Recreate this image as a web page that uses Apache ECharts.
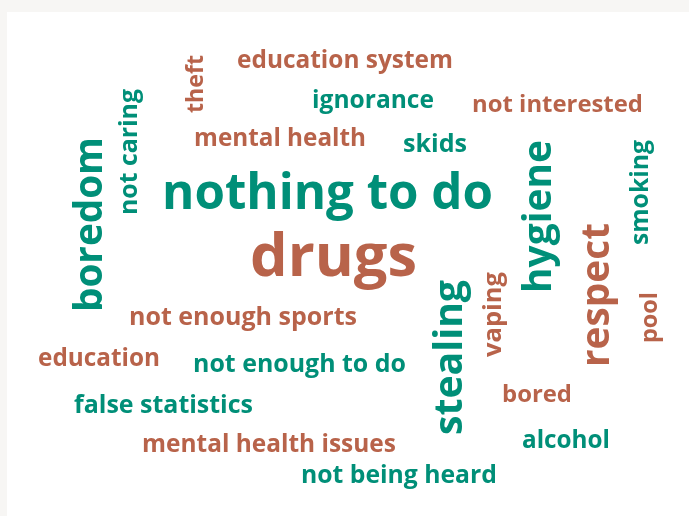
<!DOCTYPE html>
<html>
<head>
<meta charset="utf-8">
<script src="https://cdn.jsdelivr.net/npm/echarts@6/dist/echarts.min.js"></script>
<style>
  html, body { margin: 0; padding: 0; background: #f7f6f4; }
  .card { position: absolute; left: 7px; top: 12px; right: 0; bottom: 0; background: #fff; }
  #chart { position: absolute; left: 0; top: 0; width: 689px; height: 516px; }
</style>
</head>
<body>
<div class="card"></div>
<div id="chart"></div>
<script>
  // words of the cloud, and which colour group each belongs to (0 teal, 1 terracotta)
  const words = [
    'education system', 'ignorance', 'not interested', 'mental health', 'skids',
    'nothing to do', 'drugs', 'not enough sports', 'education', 'not enough to do',
    'bored', 'false statistics', 'mental health issues', 'alcohol', 'not being heard',
    'theft', 'not caring', 'boredom', 'hygiene', 'smoking',
    'respect', 'stealing', 'vaping', 'pool'
  ];
  const groups = [
    1, 0, 1, 1, 0,
    0, 1, 1, 1, 0,
    1, 0, 1, 0, 0,
    1, 0, 0, 0, 0,
    1, 0, 1, 1
  ];

  // layout (pixels): start/end along the reading direction, and the baseline
  const vertical = [
    false, false, false, false, false,
    false, false, false, false, false,
    false, false, false, false, false,
    true, true, true, true, true,
    true, true, true, true
  ];
  const spanStart = [
    237, 312, 472, 194, 403,
    162, 250, 129, 38, 193,
    502, 74, 142, 522, 301,
    55, 89, 137, 140, 140,
    223, 280, 272, 292
  ];
  const spanEnd = [
    453, 434, 643, 366, 467,
    493, 417, 357, 160, 406,
    572, 253, 396, 610, 497,
    113, 215, 312, 293, 245,
    367, 435, 357, 343
  ];
  const baseline = [
    69, 109, 113, 146.5, 153,
    210.5, 278, 326, 366.5, 373,
    403, 414, 453, 449, 484,
    204, 137.5, 103, 552, 649,
    610, 463, 502, 658
  ];

  const palette = ['#008f78', '#b8634a'];
  const FONT = 'Open Sans';
  const WEIGHT = 750;
  const MID = 0.31; // label centre sits this far above the baseline (em)

  const ctx = document.createElement('canvas').getContext('2d');
  ctx.font = WEIGHT + ' 100px "' + FONT + '"';

  const points = words.map((w, i) => {
    const len = spanEnd[i] - spanStart[i];
    const fs = len / ctx.measureText(w).width * 100;
    const mid = (spanStart[i] + spanEnd[i]) / 2;
    const off = baseline[i] - MID * fs;
    return {
      name: w,
      value: vertical[i] ? [off, mid] : [mid, off],
      label: {
        fontSize: fs,
        rotate: vertical[i] ? 90 : 0,
        color: palette[groups[i]]
      }
    };
  });

  const chart = echarts.init(document.getElementById('chart'));
  chart.setOption({
    animation: false,
    grid: { left: 0, right: 0, top: 0, bottom: 0 },
    xAxis: { type: 'value', min: 0, max: 689, show: false },
    yAxis: { type: 'value', min: 0, max: 516, inverse: true, show: false },
    series: [{
      type: 'scatter',
      silent: true,
      symbolSize: 1,
      itemStyle: { color: 'rgba(0,0,0,0)', opacity: 1 },
      label: {
        show: true,
        position: 'inside',
        align: 'center',
        verticalAlign: 'middle',
        opacity: 1,
        fontFamily: FONT,
        fontWeight: WEIGHT,
        formatter: p => p.name
      },
      data: points
    }]
  });
</script>
</body>
</html>
